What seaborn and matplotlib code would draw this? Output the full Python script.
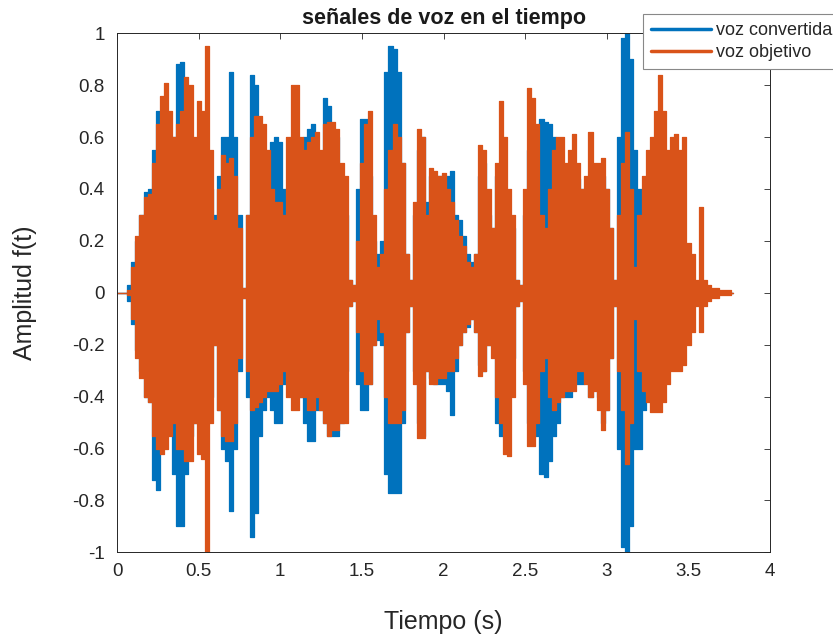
import numpy as np
import pandas as pd
import matplotlib
matplotlib.use("Agg")
import matplotlib.pyplot as plt
import seaborn as sns
from matplotlib.lines import Line2D

t_step = 0.025
blue_up = [0, 0, 0, 0.03, 0.12, 0.2, 0.3, 0.39,
           0.4, 0.55, 0.7, 0.6, 0.55, 0.5, 0.6, 0.88,
           0.89, 0.7, 0.6, 0.5, 0.5, 0.55, 0.5, 0.4,
           0.3, 0.45, 0.6, 0.6, 0.85, 0.6, 0.3, 0.02,
           0.3, 0.84, 0.8, 0.6, 0.5, 0.45, 0.58, 0.6,
           0.58, 0.4, 0.35, 0.4, 0.5, 0.4, 0.6, 0.63,
           0.65, 0.5, 0.5, 0.75, 0.72, 0.6, 0.6, 0.45,
           0.3, 0.05, 0.03, 0.4, 0.67, 0.67, 0.45, 0.2,
           0.15, 0.2, 0.85, 0.95, 0.94, 0.85, 0.5, 0.15,
           0.05, 0.3, 0.55, 0.6, 0.35, 0.45, 0.45, 0.45,
           0.4, 0.45, 0.47, 0.3, 0.28, 0.22, 0.15, 0.12,
           0.15, 0.45, 0.5, 0.3, 0.25, 0.45, 0.5, 0.4,
           0.3, 0.25, 0.05, 0.03, 0.3, 0.55, 0.6, 0.6,
           0.67, 0.66, 0.65, 0.6, 0.55, 0.5, 0.45, 0.45,
           0.45, 0.44, 0.4, 0.35, 0.4, 0.35, 0.4, 0.45,
           0.4, 0.25, 0.05, 0.6, 0.98, 1.0, 0.9, 0.55,
           0.4, 0.4, 0.3, 0.3, 0.3, 0.3, 0.3, 0.25,
           0.25, 0.2, 0.2, 0.15, 0.1, 0.05, 0.02, 0.0,
           0, 0, 0, 0, 0, 0, 0, 0]
blue_lo = [0, 0, 0, -0.03, -0.12, -0.22, -0.3, -0.4,
           -0.42, -0.72, -0.76, -0.6, -0.55, -0.5, -0.7, -0.9,
           -0.9, -0.7, -0.55, -0.5, -0.5, -0.55, -0.5, -0.4,
           -0.2, -0.45, -0.6, -0.65, -0.84, -0.6, -0.3, -0.02,
           -0.4, -0.94, -0.85, -0.55, -0.45, -0.4, -0.45, -0.5,
           -0.5, -0.35, -0.3, -0.35, -0.4, -0.4, -0.5, -0.57,
           -0.57, -0.45, -0.45, -0.5, -0.55, -0.55, -0.55, -0.5,
           -0.3, -0.05, -0.03, -0.35, -0.45, -0.45, -0.35, -0.2,
           -0.18, -0.2, -0.7, -0.77, -0.77, -0.77, -0.5, -0.15,
           -0.05, -0.3, -0.5, -0.55, -0.3, -0.33, -0.35, -0.35,
           -0.35, -0.38, -0.47, -0.3, -0.2, -0.15, -0.13, -0.1,
           -0.15, -0.28, -0.3, -0.2, -0.2, -0.5, -0.55, -0.5,
           -0.35, -0.25, -0.05, -0.03, -0.3, -0.5, -0.55, -0.55,
           -0.7, -0.71, -0.65, -0.55, -0.5, -0.4, -0.4, -0.4,
           -0.35, -0.35, -0.35, -0.3, -0.4, -0.35, -0.4, -0.5,
           -0.45, -0.25, -0.05, -0.6, -0.98, -1.0, -0.9, -0.6,
           -0.6, -0.45, -0.35, -0.3, -0.3, -0.3, -0.3, -0.25,
           -0.2, -0.2, -0.15, -0.15, -0.1, -0.05, -0.02, 0,
           0, 0, 0, 0, 0, 0, 0, 0]
orange_up = [0, 0, 0, 0.01, 0.1, 0.22, 0.3, 0.37,
             0.38, 0.5, 0.65, 0.76, 0.81, 0.7, 0.6, 0.65,
             0.7, 0.83, 0.8, 0.6, 0.74, 0.7, 0.95, 0.55,
             0.28, 0.4, 0.53, 0.5, 0.52, 0.45, 0.25, 0.02,
             0.3, 0.6, 0.68, 0.68, 0.65, 0.55, 0.4, 0.35,
             0.35, 0.3, 0.6, 0.8, 0.8, 0.6, 0.55, 0.58,
             0.6, 0.62, 0.55, 0.65, 0.66, 0.66, 0.63, 0.5,
             0.45, 0.05, 0.03, 0.2, 0.5, 0.65, 0.7, 0.3,
             0.1, 0.15, 0.4, 0.55, 0.65, 0.6, 0.5, 0.15,
             0.05, 0.35, 0.63, 0.6, 0.3, 0.48, 0.47, 0.45,
             0.46, 0.4, 0.35, 0.28, 0.22, 0.18, 0.12, 0.1,
             0.15, 0.57, 0.55, 0.4, 0.25, 0.5, 0.74, 0.6,
             0.4, 0.3, 0.05, 0.03, 0.4, 0.79, 0.75, 0.65,
             0.3, 0.25, 0.4, 0.55, 0.6, 0.6, 0.5, 0.55,
             0.61, 0.5, 0.4, 0.45, 0.62, 0.5, 0.5, 0.52,
             0.4, 0.25, 0.05, 0.3, 0.5, 0.62, 0.4, 0.1,
             0.3, 0.45, 0.55, 0.6, 0.7, 0.84, 0.7, 0.55,
             0.6, 0.61, 0.55, 0.6, 0.19, 0.15, 0.05, 0.33,
             0.05, 0.03, 0.02, 0.02, 0.01, 0.01, 0.01, 0.0]
orange_lo = [0, 0, 0, -0.01, -0.1, -0.25, -0.33, -0.4,
             -0.42, -0.55, -0.6, -0.62, -0.6, -0.55, -0.5, -0.6,
             -0.6, -0.65, -0.65, -0.5, -0.62, -0.64, -1.0, -0.5,
             -0.2, -0.45, -0.55, -0.57, -0.57, -0.5, -0.25, -0.02,
             -0.3, -0.45, -0.44, -0.42, -0.4, -0.38, -0.38, -0.38,
             -0.35, -0.3, -0.4, -0.45, -0.45, -0.4, -0.4, -0.45,
             -0.45, -0.4, -0.45, -0.5, -0.55, -0.53, -0.53, -0.5,
             -0.5, -0.05, -0.03, -0.15, -0.3, -0.35, -0.35, -0.2,
             -0.1, -0.15, -0.4, -0.5, -0.5, -0.5, -0.45, -0.15,
             -0.05, -0.35, -0.56, -0.56, -0.3, -0.35, -0.35, -0.33,
             -0.33, -0.3, -0.3, -0.25, -0.2, -0.15, -0.12, -0.1,
             -0.15, -0.32, -0.3, -0.2, -0.25, -0.4, -0.5, -0.62,
             -0.63, -0.4, -0.05, -0.03, -0.35, -0.59, -0.59, -0.5,
             -0.3, -0.25, -0.4, -0.45, -0.42, -0.4, -0.38, -0.38,
             -0.38, -0.3, -0.3, -0.35, -0.4, -0.38, -0.45, -0.53,
             -0.45, -0.25, -0.05, -0.3, -0.45, -0.66, -0.5, -0.1,
             -0.3, -0.38, -0.42, -0.46, -0.46, -0.46, -0.42, -0.35,
             -0.3, -0.3, -0.3, -0.28, -0.2, -0.15, -0.05, -0.15,
             -0.05, -0.03, -0.02, -0.02, -0.01, -0.01, -0.01, 0.0]

series_names = ["voz convertida", "voz objetivo"]
x_ticks = [0, 0.5, 1, 1.5, 2, 2.5, 3, 3.5, 4]
x_tick_labels = ["0", "0.5", "1", "1.5", "2", "2.5", "3", "3.5", "4"]
y_ticks = [-1, -0.8, -0.6, -0.4, -0.2, 0, 0.2, 0.4, 0.6, 0.8, 1]
y_tick_labels = ["-1", "-0.8", "-0.6", "-0.4", "-0.2", "0", "0.2", "0.4", "0.6", "0.8", "1"]

colors = {"voz convertida": "#0072BD", "voz objetivo": "#D95319"}

# ---- figure ----
sns.set_theme(style="white")
plt.rcParams["font.family"] = ["Liberation Sans", "DejaVu Sans"]
plt.rcParams["axes.unicode_minus"] = False

fig = plt.figure(figsize=(8.33, 6.4), dpi=100)
ax = fig.add_axes([0.1405, 0.137, 0.784, 0.811])

data = {"voz convertida": (blue_up, blue_lo), "voz objetivo": (orange_up, orange_lo)}
frames = []
for name in series_names:
    up, lo = data[name]
    t = np.round(np.arange(len(up)) * t_step, 4)
    frames.append(pd.DataFrame({"t": t, "up": up, "lo": lo, "serie": name}))
df = pd.concat(frames, ignore_index=True)

for i, name in enumerate(series_names):
    d = df[df["serie"] == name]
    c = colors[name]
    z = 2 + 2 * i
    ax.fill_between(d["t"], d["lo"], d["up"], step="mid", color=c, linewidth=0, zorder=z)
    sns.lineplot(data=d, x="t", y="up", ax=ax, color=c, lw=0.9, drawstyle="steps-mid",
                 estimator=None, legend=False, zorder=z + 0.5)
    sns.lineplot(data=d, x="t", y="lo", ax=ax, color=c, lw=0.9, drawstyle="steps-mid",
                 estimator=None, legend=False, zorder=z + 0.5)

ax.set_xlim(0, 4)
ax.set_ylim(-1, 1)
ax.set_xticks(x_ticks)
ax.set_xticklabels(x_tick_labels)
ax.set_yticks(y_ticks)
ax.set_yticklabels(y_tick_labels)
ax.tick_params(axis="both", which="both", direction="in", length=4, width=0.6,
               top=True, right=True, labelsize=13.5, colors="#262626")
ax.tick_params(axis="x", pad=8)
ax.tick_params(axis="y", pad=9)
for s in ax.spines.values():
    s.set_color("#262626")
    s.set_linewidth(0.7)
    s.set_visible(True)
    s.set_zorder(10)

ax.set_title("señales de voz en el tiempo", fontsize=15.5, fontweight="bold", pad=6.5,
             color="#1a1a1a")
ax.set_xlabel("Tiempo (s)", fontsize=18, labelpad=21, color="#262626")
ax.set_ylabel("Amplitud f(t)", fontsize=18, labelpad=25, color="#262626")

handles = [Line2D([0], [0], color=colors[n], lw=2.5) for n in series_names]
leg = fig.legend(handles, series_names, loc="upper left", bbox_to_anchor=(0.772, 0.978),
                 fontsize=13, frameon=True, fancybox=False, framealpha=1,
                 edgecolor="#888888", handlelength=3.3, handletextpad=0.28,
                 borderpad=0.45, labelspacing=0.28, borderaxespad=0)
leg.get_frame().set_linewidth(0.8)
leg.set_zorder(20)

fig.savefig("out.png", dpi=100)
